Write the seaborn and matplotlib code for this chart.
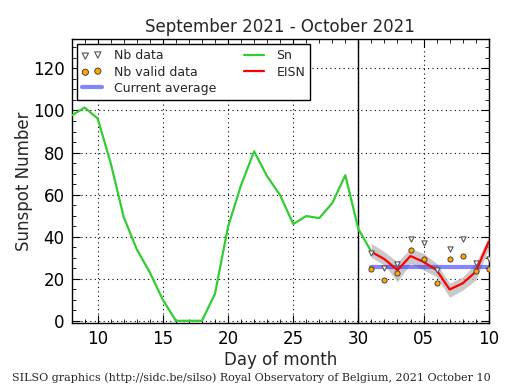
import numpy as np
import pandas as pd
import matplotlib
matplotlib.use("Agg")
import matplotlib.pyplot as plt
import seaborn as sns
from matplotlib.ticker import MultipleLocator, FixedLocator

# Data
sn_days = list(range(8, 32))
sn_vals = [97.6, 101.4, 96.2, 75.0, 49.3, 34.0, 23.0, 10.0, 0.0, 0.0, 0.0, 12.8,
           44.7, 64.5, 80.6, 68.7, 59.7, 46.0, 49.8, 48.8, 56.0, 69.2, 43.6, 32.8]

ei_days = list(range(31, 41))
eisn = [32.8, 29.3, 24.1, 30.8, 28.0, 24.1, 14.9, 17.8, 23.3, 37.6]
eisn_lo = [30.1, 26.5, 18.5, 27.3, 24.1, 20.9, 11.1, 14.6, 19.3, 34.4]
eisn_hi = [36.8, 32.8, 28.0, 34.4, 32.0, 27.3, 17.8, 20.9, 27.3, 40.0]
nb_data = [32.0, 24.9, 27.0, 38.7, 36.8, 24.1, 34.0, 38.7, 27.3, 29.6]
nb_valid = [24.6, 19.4, 22.9, 33.6, 29.4, 17.8, 29.4, 30.6, 23.8, 24.6]
cur_avg = 25.7

xtick_pos = [10, 15, 20, 25, 30, 35, 40]
xtick_lab = ["10", "15", "20", "25", "30", "05", "10"]

sns.set_theme(style="white")
plt.rcParams['font.family'] = ['DejaVu Sans']

fig = plt.figure(figsize=(5.15, 3.9), dpi=100)
ax = fig.add_axes([0.139, 0.171, 0.810, 0.728])

df_sn = pd.DataFrame({"day": sn_days, "val": sn_vals})
df_ei = pd.DataFrame({"day": ei_days, "eisn": eisn, "lo": eisn_lo, "hi": eisn_hi,
                      "nb": nb_data, "nbv": nb_valid, "avg": [cur_avg] * len(ei_days)})

ax.fill_between(df_ei["day"], df_ei["lo"], df_ei["hi"], color="#b8b8b8", alpha=0.75,
                linewidth=0, zorder=2)
sns.lineplot(data=df_ei, x="day", y="avg", ax=ax, color="#3333ff", alpha=0.6,
             linewidth=3, label="Current average", zorder=3)
sns.lineplot(data=df_sn, x="day", y="val", ax=ax, color="#33cc33", linewidth=1.6,
             label="Sn", zorder=4)
sns.lineplot(data=df_ei, x="day", y="eisn", ax=ax, color="red", linewidth=1.6,
             label="EISN", zorder=5)
sns.scatterplot(data=df_ei, x="day", y="nb", ax=ax, marker="v", s=14,
                facecolor="white", edgecolor="#555555", linewidth=0.8,
                label="Nb data", zorder=6)
sns.scatterplot(data=df_ei, x="day", y="nbv", ax=ax, marker="o", s=14,
                color="orange", edgecolor="#333333", linewidth=0.6,
                label="Nb valid data", zorder=6)

ax.axvline(30, color="black", linewidth=1.0, zorder=3)

ax.set_xlim(8, 40)
ax.set_ylim(-1.2, 133.8)
ax.xaxis.set_major_locator(FixedLocator(xtick_pos))
ax.set_xticklabels(xtick_lab)
ax.xaxis.set_minor_locator(MultipleLocator(1))
ax.yaxis.set_major_locator(MultipleLocator(20))
ax.yaxis.set_minor_locator(MultipleLocator(5))
ax.tick_params(which="both", direction="in", top=True, right=True, bottom=True, left=True,
               colors="black", labelsize=12)
ax.tick_params(which="major", length=6, width=0.8, pad=5)
ax.tick_params(which="minor", length=3, width=0.6)
ax.grid(True, which="major", color="black", linestyle=(0, (1, 3)), linewidth=0.8)
for s in ax.spines.values():
    s.set_color("black")
    s.set_linewidth(1.0)

ax.set_title("September 2021 - October 2021", fontsize=12, pad=5)
ax.set_xlabel("Day of month", fontsize=12, labelpad=2)
ax.set_ylabel("Sunspot Number", fontsize=12, labelpad=0)

h, l = ax.get_legend_handles_labels()
order = ["Nb data", "Nb valid data", "Current average", "Sn", "EISN"]
hd = dict(zip(l, h))
leg = ax.legend([hd[k] for k in order], order, ncol=2, loc="upper left",
                fontsize=9, frameon=True, fancybox=False, edgecolor="black",
                framealpha=1, borderaxespad=0.4, handlelength=1.6, handletextpad=1.0,
                columnspacing=2.2, labelspacing=0.25, borderpad=0.4, scatterpoints=2,
                markerscale=1.2)
leg.get_frame().set_linewidth(1.0)

fig.text(0.023, 0.022, "SILSO graphics (http://sidc.be/silso) Royal Observatory of Belgium, 2021 October 10",
         fontsize=8, family="DejaVu Serif")

fig.savefig("out.png", dpi=100)
